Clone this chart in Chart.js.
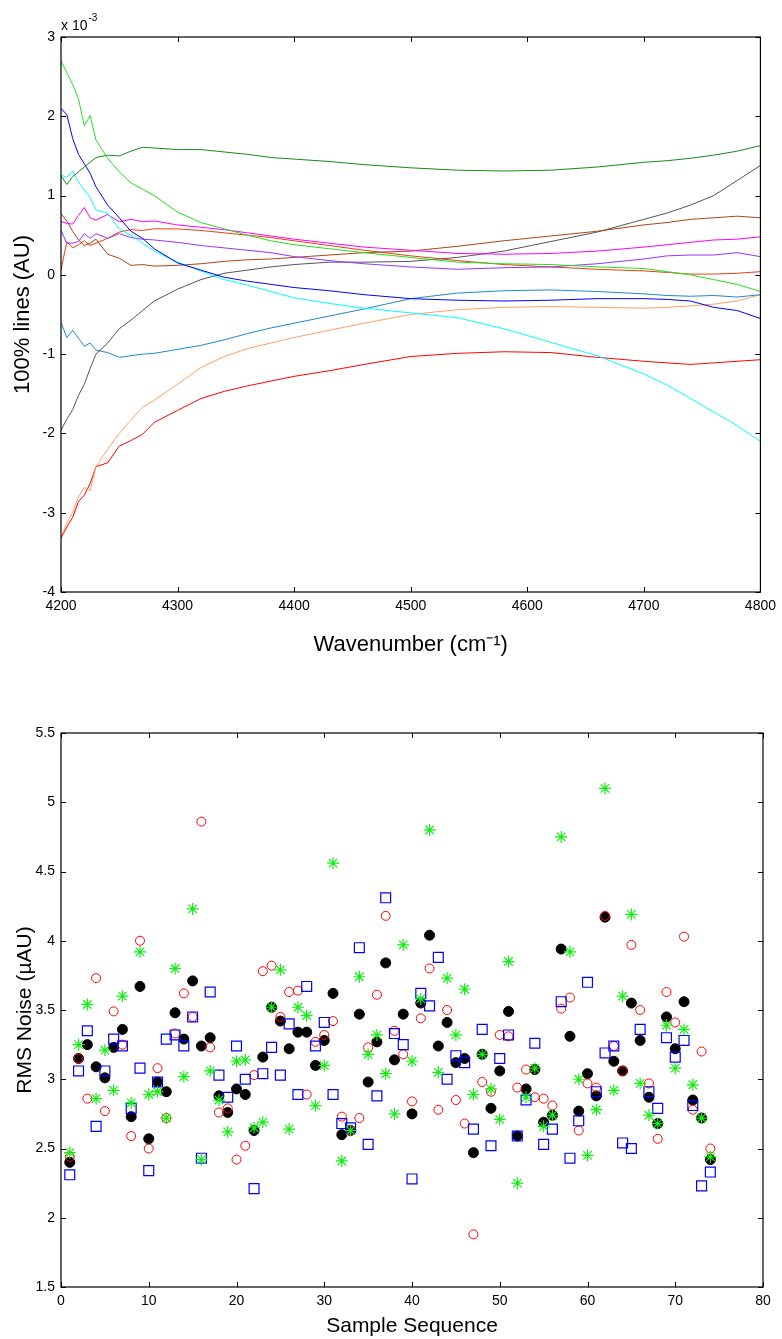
<!DOCTYPE html>
<html>
<head>
<meta charset="utf-8">
<title>100% lines and RMS noise</title>
<script src="https://cdn.jsdelivr.net/npm/chart.js@4/dist/chart.umd.min.js"></script>
<style>
  html, body { margin: 0; padding: 0; background: #fff; }
  #wrap { position: relative; width: 782px; height: 1339px; }
  canvas { position: absolute; left: 0; }
  #top { top: 0; }
  #bottom { top: 680px; }
</style>
</head>
<body>
<div id="wrap">
  <canvas id="top" width="782" height="680"></canvas>
  <canvas id="bottom" width="782" height="659"></canvas>
</div>
<script>
// ---- top panel: 100% lines, values in units of 1e-3 AU ----
const wavenumber = [4200, 4205, 4210, 4215, 4220, 4225, 4230, 4240, 4250, 4260, 4270, 4280, 4300, 4320, 4340, 4360, 4380, 4400, 4430, 4460, 4500, 4540, 4580, 4620, 4660, 4700, 4720, 4740, 4760, 4780, 4800];

const darkGreenLine = [1.25, 1.14, 1.24, 1.30, 1.36, 1.42, 1.48, 1.51, 1.50, 1.56, 1.61, 1.60, 1.58, 1.58, 1.55, 1.52, 1.48, 1.46, 1.43, 1.39, 1.35, 1.32, 1.31, 1.32, 1.36, 1.42, 1.44, 1.47, 1.51, 1.56, 1.63];
const lightGreenLine = [2.70, 2.55, 2.40, 2.22, 1.88, 2.01, 1.70, 1.47, 1.30, 1.16, 1.08, 1.00, 0.79, 0.66, 0.58, 0.50, 0.43, 0.38, 0.33, 0.28, 0.22, 0.16, 0.14, 0.13, 0.10, 0.08, 0.04, 0.00, -0.06, -0.12, -0.21];
const blueLine = [2.10, 2.02, 1.72, 1.52, 1.40, 1.28, 1.11, 0.88, 0.72, 0.55, 0.46, 0.33, 0.15, 0.06, -0.03, -0.08, -0.12, -0.16, -0.20, -0.25, -0.30, -0.32, -0.33, -0.32, -0.30, -0.30, -0.31, -0.33, -0.41, -0.45, -0.55];
const cyanLine = [1.26, 1.23, 1.31, 1.17, 1.07, 0.98, 0.82, 0.78, 0.58, 0.50, 0.40, 0.30, 0.16, 0.05, -0.06, -0.13, -0.21, -0.29, -0.36, -0.42, -0.48, -0.54, -0.68, -0.85, -1.02, -1.25, -1.39, -1.56, -1.73, -1.90, -2.10];
const magentaLine = [0.67, 0.65, 0.64, 0.75, 0.85, 0.72, 0.69, 0.76, 0.67, 0.70, 0.67, 0.68, 0.63, 0.60, 0.57, 0.53, 0.49, 0.45, 0.40, 0.35, 0.31, 0.27, 0.26, 0.27, 0.30, 0.35, 0.38, 0.41, 0.44, 0.45, 0.48];
const purpleLine = [0.56, 0.40, 0.40, 0.42, 0.52, 0.46, 0.52, 0.46, 0.52, 0.47, 0.45, 0.44, 0.41, 0.37, 0.34, 0.31, 0.28, 0.23, 0.18, 0.14, 0.10, 0.07, 0.09, 0.10, 0.14, 0.20, 0.24, 0.25, 0.25, 0.28, 0.23];
const brownLine = [0.77, 0.68, 0.55, 0.44, 0.37, 0.40, 0.45, 0.26, 0.21, 0.12, 0.13, 0.11, 0.12, 0.14, 0.17, 0.19, 0.20, 0.22, 0.25, 0.28, 0.30, 0.36, 0.43, 0.49, 0.55, 0.63, 0.66, 0.70, 0.72, 0.74, 0.72];
const orangeRedLine = [0.06, 0.42, 0.34, 0.38, 0.43, 0.37, 0.40, 0.46, 0.54, 0.57, 0.56, 0.58, 0.58, 0.56, 0.53, 0.50, 0.47, 0.43, 0.37, 0.31, 0.24, 0.18, 0.13, 0.10, 0.07, 0.05, 0.03, 0.01, 0.01, 0.02, 0.04];
const grayLine = [-1.96, -1.82, -1.70, -1.52, -1.38, -1.18, -1.00, -0.86, -0.68, -0.57, -0.45, -0.33, -0.18, -0.06, 0.02, 0.06, 0.10, 0.13, 0.16, 0.16, 0.17, 0.22, 0.30, 0.42, 0.54, 0.70, 0.78, 0.88, 1.00, 1.19, 1.38];
const steelBlueLine = [-0.60, -0.79, -0.70, -0.80, -0.90, -0.86, -0.95, -0.98, -1.04, -1.02, -1.00, -0.99, -0.94, -0.89, -0.82, -0.74, -0.67, -0.61, -0.52, -0.43, -0.30, -0.23, -0.20, -0.19, -0.21, -0.24, -0.26, -0.27, -0.26, -0.28, -0.25];
const lightOrangeLine = [-3.31, -3.13, -3.00, -2.80, -2.68, -2.72, -2.42, -2.20, -2.00, -1.83, -1.67, -1.58, -1.38, -1.17, -1.03, -0.93, -0.86, -0.79, -0.70, -0.61, -0.50, -0.44, -0.41, -0.40, -0.41, -0.42, -0.41, -0.39, -0.37, -0.33, -0.25];
const redLine = [-3.32, -3.18, -3.06, -2.86, -2.78, -2.63, -2.42, -2.37, -2.16, -2.09, -2.01, -1.86, -1.71, -1.56, -1.47, -1.40, -1.34, -1.28, -1.21, -1.13, -1.03, -0.99, -0.97, -0.98, -1.04, -1.09, -1.11, -1.13, -1.11, -1.09, -1.07];

const topXTicks = [4200, 4300, 4400, 4500, 4600, 4700, 4800];
const topYTicks = [-4, -3, -2, -1, 0, 1, 2, 3];

// ---- bottom panel: RMS noise per sample ----
const sampleNo = [1, 2, 3, 4, 5, 6, 7, 8, 9, 10, 11, 12, 13, 14, 15, 16, 17, 18, 19, 20, 21, 22, 23, 24, 25, 26, 27, 28, 29, 30, 31, 32, 33, 34, 35, 36, 37, 38, 39, 40, 41, 42, 43, 44, 45, 46, 47, 48, 49, 50, 51, 52, 53, 54, 55, 56, 57, 58, 59, 60, 61, 62, 63, 64, 65, 66, 67, 68, 69, 70, 71, 72, 73, 74];
const noiseBlack = [2.40, 3.15, 3.25, 3.09, 3.01, 3.23, 3.36, 2.73, 3.67, 2.57, 2.98, 2.91, 3.48, 3.29, 3.71, 3.24, 3.30, 2.88, 2.76, 2.93, 2.89, 2.63, 3.16, 3.52, 3.42, 3.22, 3.34, 3.34, 3.10, 3.28, 3.62, 2.60, 2.63, 3.47, 2.98, 3.27, 3.84, 3.14, 3.47, 2.75, 3.55, 4.04, 3.24, 3.41, 3.12, 3.15, 2.47, 3.18, 2.79, 3.06, 3.49, 2.59, 2.93, 3.07, 2.69, 2.74, 3.94, 3.31, 2.77, 3.04, 2.88, 4.17, 3.13, 3.06, 3.55, 3.28, 2.87, 2.68, 3.45, 3.22, 3.56, 2.85, 2.72, 2.42];
const noiseRed = [2.44, 3.15, 2.86, 3.73, 2.77, 3.49, 3.25, 2.59, 4.00, 2.50, 3.08, 2.72, 3.33, 3.62, 3.45, 4.86, 3.23, 2.76, 2.79, 2.42, 2.52, 3.03, 3.78, 3.82, 3.45, 3.63, 3.64, 2.89, 3.27, 3.32, 3.42, 2.73, 2.63, 2.72, 3.23, 3.61, 4.18, 3.35, 3.18, 2.84, 3.44, 3.80, 2.78, 3.50, 2.85, 2.68, 1.88, 2.98, 2.91, 3.32, 3.31, 2.94, 3.07, 2.87, 2.86, 2.81, 3.51, 3.59, 2.63, 2.97, 2.94, 4.18, 3.24, 3.06, 3.97, 3.50, 2.97, 2.57, 3.63, 3.41, 4.03, 2.78, 3.20, 2.50];
const noiseBlue = [2.31, 3.06, 3.35, 2.66, 3.06, 3.29, 3.24, 2.79, 3.08, 2.34, 2.98, 3.29, 3.32, 3.24, 3.45, 2.43, 3.63, 3.03, 2.87, 3.24, 3.00, 2.21, 3.04, 3.23, 3.03, 3.40, 2.89, 3.67, 3.24, 3.41, 2.89, 2.68, 2.65, 3.95, 2.53, 2.88, 4.31, 3.33, 3.25, 2.28, 3.62, 3.53, 3.88, 3.00, 3.17, 3.12, 2.64, 3.36, 2.52, 3.15, 3.32, 2.59, 2.85, 3.26, 2.53, 2.64, 3.56, 2.43, 2.70, 3.70, 2.91, 3.19, 3.24, 2.54, 2.50, 3.36, 2.91, 2.79, 3.30, 3.16, 3.28, 2.81, 2.23, 2.33];
const noiseGreen = [2.47, 3.25, 3.54, 2.86, 3.21, 2.92, 3.60, 2.83, 3.92, 2.89, 2.91, 2.72, 3.80, 3.02, 4.23, 2.42, 3.06, 2.85, 2.62, 3.13, 3.14, 2.65, 2.69, 3.52, 3.79, 2.64, 3.52, 3.46, 2.81, 3.10, 4.56, 2.41, 2.63, 3.74, 3.18, 3.32, 3.04, 2.75, 3.97, 3.13, 3.58, 4.80, 3.05, 3.73, 3.32, 3.65, 2.89, 3.18, 2.93, 2.71, 3.85, 2.25, 2.87, 3.08, 2.66, 2.74, 4.75, 3.92, 3.00, 2.45, 2.78, 5.10, 2.92, 3.60, 4.19, 2.97, 2.74, 2.68, 3.39, 3.08, 3.36, 2.96, 2.72, 2.44];

const bottomXTicks = [0, 10, 20, 30, 40, 50, 60, 70, 80];
const bottomYTicks = [1.5, 2, 2.5, 3, 3.5, 4, 4.5, 5, 5.5];

Chart.defaults.font.family = '"Liberation Sans", Arial, sans-serif';
Chart.defaults.color = '#000';

// box round the plot with short inward ticks, like the original figure
const boxPlugin = {
  id: 'boxTicks',
  afterDraw(chart) {
    const { ctx, chartArea: a, scales } = chart;
    const len = 5;
    ctx.save();
    ctx.strokeStyle = '#000';
    ctx.lineWidth = 1.2;
    ctx.strokeRect(a.left, a.top, a.right - a.left, a.bottom - a.top);
    ctx.lineWidth = 1;
    ctx.beginPath();
    scales.x.ticks.forEach(t => {
      const px = Math.round(scales.x.getPixelForValue(t.value)) + 0.5;
      ctx.moveTo(px, a.bottom); ctx.lineTo(px, a.bottom - len);
      ctx.moveTo(px, a.top); ctx.lineTo(px, a.top + len);
    });
    scales.y.ticks.forEach(t => {
      const py = Math.round(scales.y.getPixelForValue(t.value)) + 0.5;
      ctx.moveTo(a.left, py); ctx.lineTo(a.left + len, py);
      ctx.moveTo(a.right, py); ctx.lineTo(a.right - len, py);
    });
    ctx.stroke();
    ctx.restore();
  }
};

// "x 10^-3" multiplier above the y axis of the top panel
const exponentPlugin = {
  id: 'exponentLabel',
  afterDraw(chart) {
    const { ctx, chartArea: a } = chart;
    ctx.save();
    ctx.fillStyle = '#000';
    ctx.textAlign = 'left';
    ctx.textBaseline = 'alphabetic';
    ctx.font = '14px "Liberation Sans", Arial, sans-serif';
    ctx.fillText('x 10', a.left, a.top - 7);
    const w = ctx.measureText('x 10').width;
    ctx.font = '10px "Liberation Sans", Arial, sans-serif';
    ctx.fillText('-3', a.left + w + 1, a.top - 16);
    ctx.restore();
  }
};

function fixedTicks(list) {
  return scale => { scale.ticks = list.map(v => ({ value: v })); };
}

function axis(min, max, ticks, opts) {
  return {
    type: 'linear',
    min: min,
    max: max,
    afterBuildTicks: fixedTicks(ticks),
    grid: { display: false, drawTicks: false },
    border: { display: false },
    ticks: {
      padding: 6,
      color: '#000',
      autoSkip: false,
      maxRotation: 0,
      font: { size: 14 },
      callback: v => String(v)
    },
    title: {
      display: true,
      text: opts.title,
      color: '#000',
      font: { size: opts.titleSize },
      padding: opts.titlePadding
    },
    afterFit: opts.fit
  };
}

const lineSeries = [
  { label: 'dark green', data: darkGreenLine, color: '#178a17' },
  { label: 'light green', data: lightGreenLine, color: '#22e022' },
  { label: 'blue', data: blueLine, color: '#0000ff' },
  { label: 'cyan', data: cyanLine, color: '#00ffff' },
  { label: 'magenta', data: magentaLine, color: '#ff00ff' },
  { label: 'purple', data: purpleLine, color: '#9933ff' },
  { label: 'brown', data: brownLine, color: '#b04416' },
  { label: 'orange red', data: orangeRedLine, color: '#f03c10' },
  { label: 'gray', data: grayLine, color: '#555555' },
  { label: 'steel blue', data: steelBlueLine, color: '#1f88cc' },
  { label: 'light orange', data: lightOrangeLine, color: '#ffa060' },
  { label: 'red', data: redLine, color: '#ff0000' }
];

new Chart(document.getElementById('top'), {
  type: 'line',
  data: {
    datasets: lineSeries.map(s => ({
      label: s.label,
      data: wavenumber.map((w, i) => ({ x: w, y: s.data[i] })),
      borderColor: s.color,
      borderWidth: 1,
      pointRadius: 0,
      tension: 0,
      fill: false
    }))
  },
  options: {
    responsive: false,
    animation: false,
    devicePixelRatio: 1,
    events: [],
    layout: { padding: { top: 37, right: 19, bottom: 22, left: 0 } },
    plugins: { legend: { display: false }, tooltip: { enabled: false } },
    scales: {
      x: axis(4200, 4800, topXTicks, {
        title: 'Wavenumber (cm\u207B\u00B9)', titleSize: 22,
        titlePadding: { top: 0, bottom: 0 },
        fit: s => { s.height = 66; }
      }),
      y: axis(-4, 3, topYTicks, {
        title: '100% lines (AU)', titleSize: 22,
        titlePadding: { top: 10, bottom: 0 },
        fit: s => { s.width = 61; }
      })
    }
  },
  plugins: [boxPlugin, exponentPlugin]
});

const pointSeries = [
  { label: 'green', data: noiseGreen, style: 'star', radius: 6, color: '#11ee11', fill: 'rgba(0,0,0,0)', width: 1.2, order: 0 },
  { label: 'blue', data: noiseBlue, style: 'rect', radius: 7, color: '#0000ff', fill: 'rgba(0,0,0,0)', width: 1.2, order: 1 },
  { label: 'red', data: noiseRed, style: 'circle', radius: 4.5, color: '#ff0000', fill: 'rgba(0,0,0,0)', width: 1, order: 2 },
  { label: 'black', data: noiseBlack, style: 'circle', radius: 5, color: '#000000', fill: '#000000', width: 1, order: 3 }
];

new Chart(document.getElementById('bottom'), {
  type: 'scatter',
  data: {
    datasets: pointSeries.map(s => ({
      label: s.label,
      data: sampleNo.map((n, i) => ({ x: n, y: s.data[i] })),
      pointStyle: s.style,
      pointRadius: s.radius,
      borderColor: s.color,
      backgroundColor: s.fill,
      borderWidth: s.width,
      order: s.order,
      showLine: false
    }))
  },
  options: {
    responsive: false,
    animation: false,
    devicePixelRatio: 1,
    events: [],
    layout: { padding: { top: 53, right: 19, bottom: 0, left: 0 } },
    plugins: { legend: { display: false }, tooltip: { enabled: false } },
    scales: {
      x: axis(0, 80, bottomXTicks, {
        title: 'Sample Sequence', titleSize: 21,
        titlePadding: { top: 0, bottom: 0 },
        fit: s => { s.height = 52; }
      }),
      y: axis(1.5, 5.5, bottomYTicks, {
        title: 'RMS Noise (\u00B5AU)', titleSize: 21,
        titlePadding: { top: 13, bottom: 0 },
        fit: s => { s.width = 61; }
      })
    }
  },
  plugins: [boxPlugin]
});
</script>
</body>
</html>
